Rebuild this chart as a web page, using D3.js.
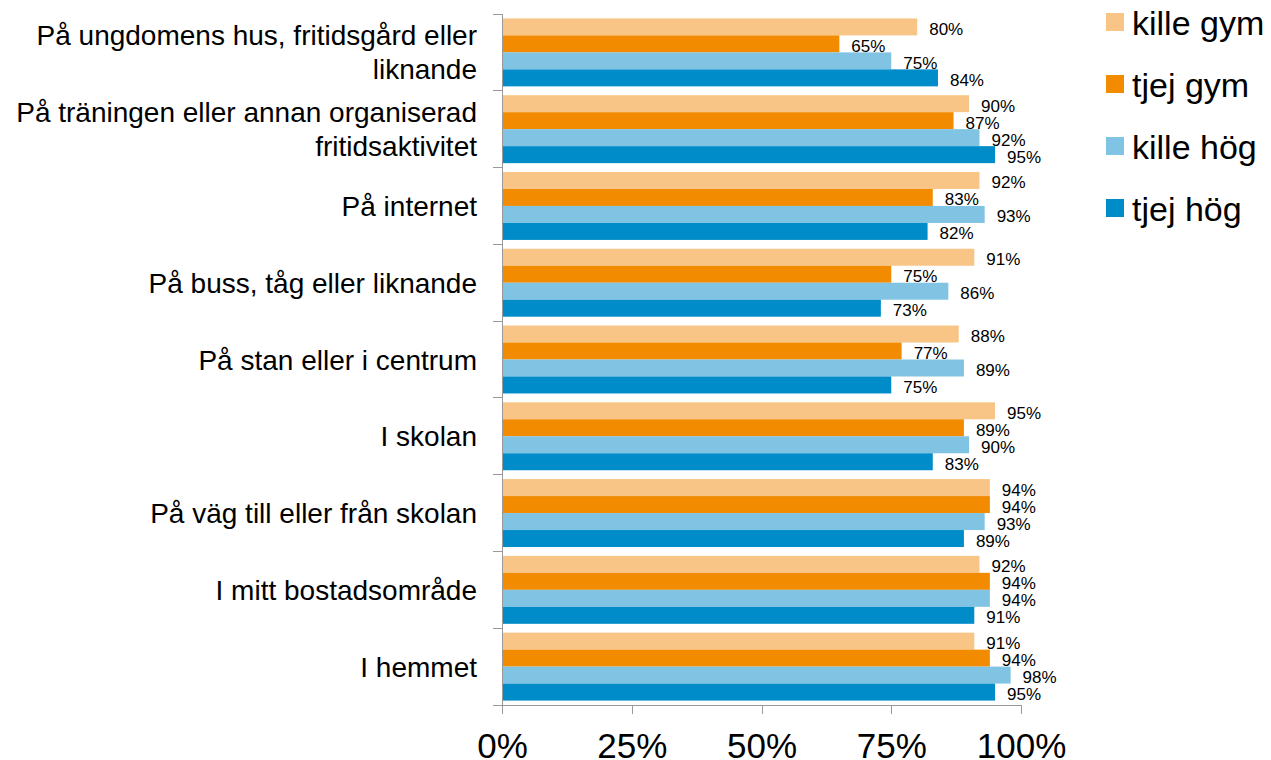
<!DOCTYPE html>
<meta charset="utf-8">
<style>
body { margin: 0; background: #fff; }
text { font-family: "Liberation Sans", Arial, sans-serif; fill: #000; }
.axis line, .axis path { stroke: #999; stroke-width: 1px; shape-rendering: crispEdges; }
</style>
<svg width="1271" height="760"></svg>
<script src="https://cdn.jsdelivr.net/npm/d3@7"></script>
<script>

var categories = [
    ["På ungdomens hus, fritidsgård eller", "liknande"],
    ["På träningen eller annan organiserad", "fritidsaktivitet"],
    ["På internet"],
    ["På buss, tåg eller liknande"],
    ["På stan eller i centrum"],
    ["I skolan"],
    ["På väg till eller från skolan"],
    ["I mitt bostadsområde"],
    ["I hemmet"]
];
var seriesNames = ["kille gym", "tjej gym", "kille hög", "tjej hög"];
var seriesColors = ["#f9c586", "#f28b00", "#80c3e2", "#008cc8"];

var killeGym = [80, 90, 92, 91, 88, 95, 94, 92, 91];
var tjejGym  = [65, 87, 83, 75, 77, 89, 94, 94, 94];
var killeHog = [75, 92, 93, 86, 89, 90, 93, 94, 98];
var tjejHog  = [84, 95, 82, 73, 75, 83, 89, 91, 95];

var xTicks = [0, 25, 50, 75, 100];

var values = [killeGym, tjejGym, killeHog, tjejHog];

var svg = d3.select("svg"),
    plotLeft = 502, plotRight = 1021, plotTop = 14, plotBottom = 705;

var x = d3.scaleLinear().domain([0, 100]).range([plotLeft, plotRight]);

var y = d3.scaleBand()
    .domain(d3.range(categories.length))
    .range([plotTop, plotBottom])
    .paddingInner(0.115)
    .paddingOuter(0.0575);

var ySub = d3.scaleBand()
    .domain(d3.range(seriesNames.length))
    .range([0, y.bandwidth()]);

// bars
var groups = svg.append("g").selectAll("g")
    .data(categories)
    .enter().append("g")
    .attr("transform", function(d, i) { return "translate(0," + y(i) + ")"; });

groups.selectAll("rect")
    .data(function(d, i) { return values.map(function(s) { return s[i]; }); })
    .enter().append("rect")
    .attr("x", x(0))
    .attr("y", function(d, j) { return ySub(j); })
    .attr("width", function(d) { return x(d) - x(0); })
    .attr("height", ySub.bandwidth())
    .attr("fill", function(d, j) { return seriesColors[j]; });

groups.selectAll("text.val")
    .data(function(d, i) { return values.map(function(s) { return s[i]; }); })
    .enter().append("text")
    .attr("class", "val")
    .attr("x", function(d) { return x(d) + 12; })
    .attr("y", function(d, j) { return ySub(j) + ySub.bandwidth() / 2 + 8; })
    .style("font-size", "17px")
    .text(function(d) { return d + "%"; });

// left axis with ticks at band boundaries
var step = y.step();
var bounds = d3.range(categories.length + 1).map(function(i) { return plotTop + i * step; });
var ax = svg.append("g").attr("class", "axis");
ax.append("line").attr("x1", plotLeft).attr("x2", plotLeft).attr("y1", plotTop).attr("y2", plotBottom);
ax.selectAll("line.t").data(bounds).enter().append("line")
    .attr("x1", plotLeft - 9).attr("x2", plotLeft)
    .attr("y1", function(d) { return d; }).attr("y2", function(d) { return d; });

// bottom axis
var bx = svg.append("g")
    .attr("class", "axis")
    .attr("transform", "translate(0," + plotBottom + ")")
    .call(d3.axisBottom(x).tickValues(xTicks).tickSize(9).tickSizeOuter(0)
        .tickFormat(function(d) { return d + "%"; }));
bx.select(".domain").remove();
bx.append("line").attr("x1", plotLeft - 9).attr("x2", plotRight);
bx.selectAll("text")
    .attr("y", 53)
    .attr("dy", null)
    .style("font-size", "35px")
    .style("font-family", "'Liberation Sans', Arial, sans-serif")
    .attr("fill", "#000");

// category labels
var labels = svg.append("g").selectAll("text")
    .data(categories)
    .enter().append("text")
    .attr("text-anchor", "end")
    .style("font-size", "28px")
    .attr("transform", function(d, i) { return "translate(477," + (y(i) + y.bandwidth() / 2) + ")"; });

labels.each(function(d) {
    var t = d3.select(this);
    var n = d.length, lh = 34;
    d.forEach(function(line, k) {
        t.append("tspan")
            .attr("x", 0)
            .attr("y", (k - (n - 1) / 2) * lh + 10)
            .text(line);
    });
});

// legend
var legend = svg.append("g").selectAll("g")
    .data(seriesNames)
    .enter().append("g")
    .attr("transform", function(d, i) { return "translate(1106," + (13 + i * 62) + ")"; });

legend.append("rect")
    .attr("width", 18).attr("height", 18)
    .attr("fill", function(d, i) { return seriesColors[i]; });

legend.append("text")
    .attr("x", 26).attr("y", 22)
    .style("font-size", "34px")
    .text(function(d) { return d; });

</script>
